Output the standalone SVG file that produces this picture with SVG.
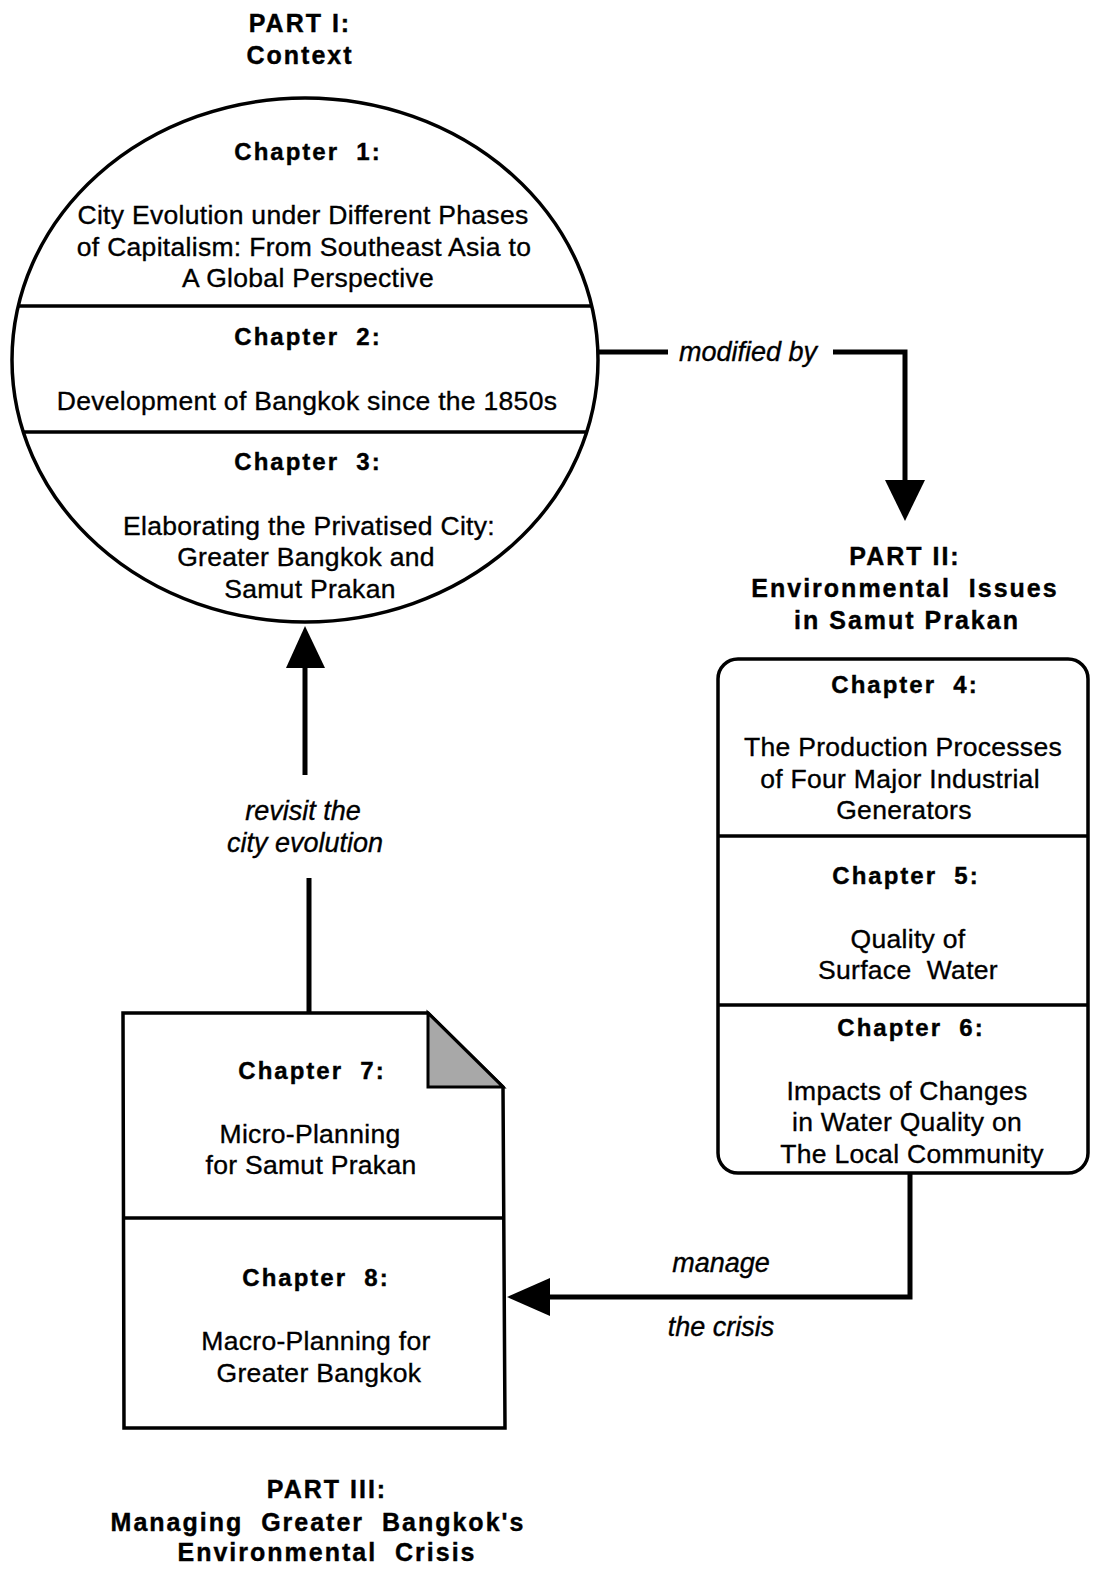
<svg xmlns="http://www.w3.org/2000/svg" width="1095" height="1569" viewBox="0 0 1095 1569">
  <defs>
    <style>
      .bg { fill: #ffffff; }
      .shape { fill: #ffffff; stroke: #000; stroke-width: 3.5; }
      .div { stroke: #000; stroke-width: 3.5; fill: none; }
      .conn { stroke: #000; stroke-width: 5; fill: none; }
      .head { fill: #000; stroke: none; }
      .title { font-family: "Liberation Sans", Arial, sans-serif; font-weight: bold; font-size: 25px; letter-spacing: 2px; text-anchor: middle; white-space: pre; fill: #000; stroke: #000; stroke-width: 0.4; }
      .chap { font-family: "Liberation Sans", Arial, sans-serif; font-weight: bold; font-size: 24px; letter-spacing: 2px; text-anchor: middle; white-space: pre; fill: #000; stroke: #000; stroke-width: 0.4; }
      .body { font-family: "Liberation Sans", Arial, sans-serif; font-size: 26.5px; letter-spacing: 0.3px; text-anchor: middle; white-space: pre; fill: #000; stroke: #000; stroke-width: 0.35; }
      .lbl { font-family: "Liberation Sans", Arial, sans-serif; font-style: italic; font-size: 27px; text-anchor: middle; fill: #000; stroke: #000; stroke-width: 0.35; }
    </style>
  </defs>

  <rect class="bg" x="0" y="0" width="1095" height="1569"/>

  <!-- Connectors -->
  <g id="connectors">
    <!-- Part I to Part II -->
    <polyline class="conn" points="598,352 668,352"/>
    <polyline class="conn" points="833,352 905,352 905,482"/>
    <polygon class="head" points="885,480 925,480 905,521"/>
    <text class="lbl" x="748" y="361">modified by</text>

    <!-- Part II to Part III -->
    <polyline class="conn" points="910,1173 910,1297 548,1297"/>
    <polygon class="head" points="550,1278 550,1316 507,1297"/>
    <text class="lbl" x="721" y="1272">manage</text>
    <text class="lbl" x="721" y="1336">the crisis</text>

    <!-- Part III to Part I -->
    <polyline class="conn" points="309,1012 309,878"/>
    <polyline class="conn" points="305,775 305,665"/>
    <polygon class="head" points="286,668 325,668 305,626"/>
    <text class="lbl" x="303" y="820">revisit the</text>
    <text class="lbl" x="305" y="852">city evolution</text>
  </g>

  <!-- Part I: context, chapters 1-3 in a circle -->
  <g id="part1">
    <text class="title" x="300" y="32">PART I:</text>
    <text class="title" x="300" y="64">Context</text>
    <ellipse class="shape" cx="305" cy="360" rx="293" ry="262"/>
    <line class="div" x1="18" y1="306" x2="592" y2="306"/>
    <line class="div" x1="23" y1="432" x2="587" y2="432"/>
    <text class="chap" x="308" y="160">Chapter  1:</text>
    <text class="body" x="303" y="224">City Evolution under Different Phases</text>
    <text class="body" x="304" y="256">of Capitalism: From Southeast Asia to</text>
    <text class="body" x="308" y="287">A Global Perspective</text>
    <text class="chap" x="308" y="345">Chapter  2:</text>
    <text class="body" x="307" y="410">Development of Bangkok since the 1850s</text>
    <text class="chap" x="308" y="470">Chapter  3:</text>
    <text class="body" x="309" y="535">Elaborating the Privatised City:</text>
    <text class="body" x="306" y="566">Greater Bangkok and</text>
    <text class="body" x="310" y="598">Samut Prakan</text>
  </g>

  <!-- Part II: environmental issues, chapters 4-6 -->
  <g id="part2">
    <text class="title" x="905" y="565">PART II:</text>
    <text class="title" x="905" y="597">Environmental  Issues</text>
    <text class="title" x="907" y="629">in Samut Prakan</text>
    <rect class="shape" x="718" y="659" width="370" height="514" rx="20" ry="20"/>
    <line class="div" x1="719" y1="836" x2="1087" y2="836"/>
    <line class="div" x1="719" y1="1005" x2="1087" y2="1005"/>
    <text class="chap" x="905" y="693">Chapter  4:</text>
    <text class="body" x="903" y="756">The Production Processes</text>
    <text class="body" x="900" y="788">of Four Major Industrial</text>
    <text class="body" x="904" y="819">Generators</text>
    <text class="chap" x="906" y="884">Chapter  5:</text>
    <text class="body" x="908" y="948">Quality of</text>
    <text class="body" x="908" y="979">Surface  Water</text>
    <text class="chap" x="911" y="1036">Chapter  6:</text>
    <text class="body" x="907" y="1100">Impacts of Changes</text>
    <text class="body" x="907" y="1131">in Water Quality on</text>
    <text class="body" x="912" y="1163">The Local Community</text>
  </g>

  <!-- Part III: managing the crisis, chapters 7-8 in a document shape -->
  <g id="part3">
    <path class="shape" d="M123,1013 L428,1013 L503,1087 L505,1428 L124,1428 Z"/>
    <path d="M428,1013 L428,1087 L503,1087 Z" fill="#a8a8a8" stroke="#000" stroke-width="3" stroke-linejoin="miter"/>
    <line class="div" x1="123" y1="1218" x2="505" y2="1218"/>
    <text class="chap" x="312" y="1079">Chapter  7:</text>
    <text class="body" x="310" y="1143">Micro-Planning</text>
    <text class="body" x="311" y="1174">for Samut Prakan</text>
    <text class="chap" x="316" y="1286">Chapter  8:</text>
    <text class="body" x="316" y="1350">Macro-Planning for</text>
    <text class="body" x="319" y="1382">Greater Bangkok</text>
    <text class="title" x="327" y="1498">PART III:</text>
    <text class="title" x="318" y="1531">Managing  Greater  Bangkok's</text>
    <text class="title" x="327" y="1561">Environmental  Crisis</text>
  </g>
</svg>
